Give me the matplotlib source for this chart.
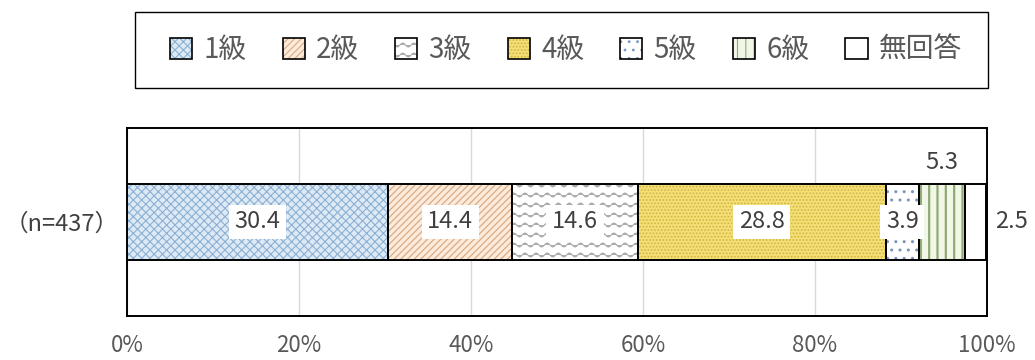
import warnings
warnings.filterwarnings("ignore")
import numpy as np
import matplotlib
matplotlib.use("Agg")
import matplotlib.pyplot as plt
from matplotlib import hatch as mhatch
from matplotlib.colors import to_rgba
from matplotlib.patches import Rectangle
from matplotlib.path import Path

plt.rcParams['font.family'] = ['Noto Sans CJK JP', 'DejaVu Sans']
plt.rcParams['hatch.linewidth'] = 0.8

# ---- data ----
categories = ['1級', '2級', '3級', '4級', '5級', '6級', '無回答']
values = [30.4, 14.4, 14.6, 28.8, 3.9, 5.3, 2.5]
row_label = '（n=437）'
xticks = [0, 20, 40, 60, 80, 100]
xtick_labels = ['0%', '20%', '40%', '60%', '80%', '100%']

face_colors = ['#DDEAF6', '#FCEADB', '#FFFFFF', '#F4DE78', '#FFFFFF', '#F1F7E6', '#FFFFFF']
hatch_colors = ['#8DB0D3', '#D9AC86', '#ABABAB', '#D2B63A', '#7A96BE', '#90A875', '#FFFFFF']
hatches = ['xxxx', '/////', '~~', '.....', '..', '||', '']
hatch_lws = [0.8, 0.9, 0.8, 0.8, 1.0, 1.6, 0.8]


# custom wavy hatch
class WaveHatch(mhatch.HatchPatternBase):
    def __init__(self, hatch, density):
        self.num_lines = int(hatch.count('~') * density * 0.85)
        self.periods = 9
        self.n_pts = self.periods * 8 + 1
        self.num_vertices = self.num_lines * self.n_pts

    def set_vertices_and_codes(self, vertices, codes):
        n = self.num_lines
        amp = 0.2 / n
        xs = np.linspace(0, 1, self.n_pts)
        k = 0
        for i in range(n):
            y0 = (i + 0.5) / n
            for j in range(self.n_pts):
                vertices[k] = (xs[j], y0 + amp * np.sin(2 * np.pi * self.periods * xs[j]))
                codes[k] = Path.MOVETO if j == 0 else Path.LINETO
                k += 1


mhatch._hatch_types.append(WaveHatch)

fig = plt.figure(figsize=(10.35, 3.6), dpi=100)
ax = fig.add_axes([127 / 1035, 1 - 316 / 360, 860 / 1035, 188 / 360])

left = 0.0
bars = []
for i, (cat, v) in enumerate(zip(categories, values)):
    plt.rcParams['hatch.linewidth'] = hatch_lws[i]
    b = ax.barh([0], [v], left=left, height=0.81, color=face_colors[i],
                edgecolor='black', linewidth=1.4, hatch=hatches[i], label=cat, zorder=3)
    for p in b.patches:
        p._hatch_color = to_rgba(hatch_colors[i])
    bars.append(b)
    left += v

ax.set_xlim(0, 100)
ax.set_ylim(-1, 1)
ax.set_xticks(xticks)
ax.set_xticklabels(xtick_labels, fontsize=16, color='#595959')
ax.set_yticks([0])
ax.set_yticklabels([row_label], fontsize=17, color='#404040')
ax.tick_params(length=0, pad=6)
ax.tick_params(axis='x', pad=13)
ax.grid(axis='x', color='#D9D9D9', linewidth=1, zorder=0)
for s in ax.spines.values():
    s.set_color('black')
    s.set_linewidth(1.4)

# labels
cum = np.cumsum([0] + values[:-1])
box = dict(facecolor='white', edgecolor='none', pad=4)
for i, v in enumerate(values):
    c = cum[i] + v / 2
    txt = f'{v:.1f}'
    if i == 5:
        ax.text(c, 0.63, txt, ha='center', va='center', fontsize=17, color='#404040', zorder=5)
    elif i == 6:
        ax.text(cum[i] + v + 3.0, 0, txt, ha='center', va='center', fontsize=17, color='#404040',
                zorder=5, clip_on=False)
    else:
        ax.text(c, 0, txt, ha='center', va='center', fontsize=17, color='#404040', bbox=box, zorder=5)

# legend
fig.patches.append(Rectangle((135 / 1035, 1 - 88 / 360), 853 / 1035, 76 / 360,
                             transform=fig.transFigure, facecolor='white', edgecolor='black',
                             linewidth=1.0, zorder=0))
leg = fig.legend(handles=bars, labels=categories, loc='center', ncol=7,
                 bbox_to_anchor=(566 / 1035, 1 - 50 / 360), frameon=False, fontsize=20,
                 handlelength=0.8, handleheight=0.8, handletextpad=0.4, columnspacing=1.3,
                 labelcolor='#595959')
for h in leg.legend_handles:
    h.set_linewidth(1.2)

fig.savefig('out.png', dpi=100)
